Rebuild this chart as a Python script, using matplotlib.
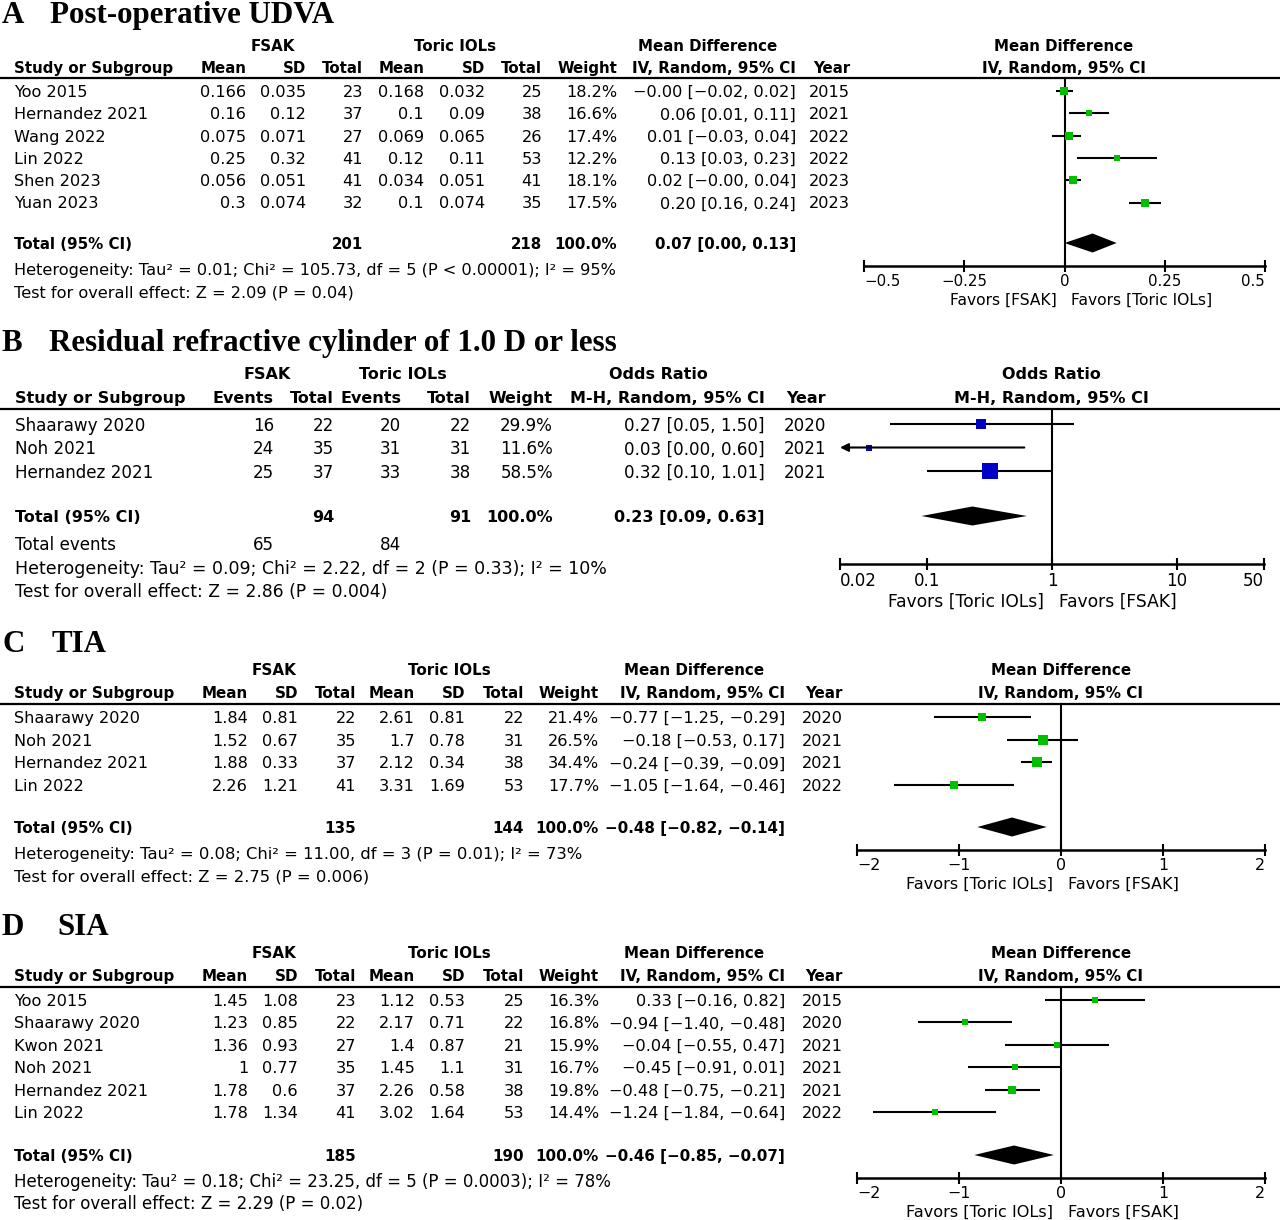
"""
Forest plots (FSAK vs Toric IOLs): UDVA, residual cylinder, TIA, SIA.
Guarda la figura en out.png
"""
import matplotlib.pyplot as plt

W, H = 1280, 1220
GREEN = "#00c000"
BLUE = "#0000c8"
MINUS = "\u2212"

# ---------------- A: Post-operative UDVA ----------------
a_study = ["Yoo 2015", "Hernandez 2021", "Wang 2022", "Lin 2022", "Shen 2023", "Yuan 2023"]
a_fsak_mean = [0.166, 0.16, 0.075, 0.25, 0.056, 0.3]
a_fsak_sd = [0.035, 0.12, 0.071, 0.32, 0.051, 0.074]
a_fsak_n = [23, 37, 27, 41, 41, 32]
a_toric_mean = [0.168, 0.1, 0.069, 0.12, 0.034, 0.1]
a_toric_sd = [0.032, 0.09, 0.065, 0.11, 0.051, 0.074]
a_toric_n = [25, 38, 26, 53, 41, 35]
a_weight = [18.2, 16.6, 17.4, 12.2, 18.1, 17.5]
a_md = [-0.002, 0.06, 0.01, 0.13, 0.02, 0.20]
a_lo = [-0.02, 0.01, -0.03, 0.03, -0.001, 0.16]
a_hi = [0.02, 0.11, 0.04, 0.23, 0.04, 0.24]
a_year = [2015, 2021, 2022, 2022, 2023, 2023]
a_total_n = [201, 218]
a_total_md = [0.07, 0.00, 0.13]
a_het = "Heterogeneity: Tau² = 0.01; Chi² = 105.73, df = 5 (P < 0.00001); I² = 95%"
a_test = "Test for overall effect: Z = 2.09 (P = 0.04)"

# ---------------- B: Residual cylinder <= 1.0 D ----------------
b_study = ["Shaarawy 2020", "Noh 2021", "Hernandez 2021"]
b_fsak_ev = [16, 24, 25]
b_fsak_n = [22, 35, 37]
b_toric_ev = [20, 31, 33]
b_toric_n = [22, 31, 38]
b_weight = [29.9, 11.6, 58.5]
b_or = [0.27, 0.034, 0.32]
b_lo = [0.05, 0.002, 0.10]
b_hi = [1.50, 0.60, 1.01]
b_year = [2020, 2021, 2021]
b_total_n = [94, 91]
b_total_ev = [65, 84]
b_total_or = [0.23, 0.09, 0.63]
b_het = "Heterogeneity: Tau² = 0.09; Chi² = 2.22, df = 2 (P = 0.33); I² = 10%"
b_test = "Test for overall effect: Z = 2.86 (P = 0.004)"

# ---------------- C: TIA ----------------
c_study = ["Shaarawy 2020", "Noh 2021", "Hernandez 2021", "Lin 2022"]
c_fsak_mean = [1.84, 1.52, 1.88, 2.26]
c_fsak_sd = [0.81, 0.67, 0.33, 1.21]
c_fsak_n = [22, 35, 37, 41]
c_toric_mean = [2.61, 1.7, 2.12, 3.31]
c_toric_sd = [0.81, 0.78, 0.34, 1.69]
c_toric_n = [22, 31, 38, 53]
c_weight = [21.4, 26.5, 34.4, 17.7]
c_md = [-0.77, -0.18, -0.24, -1.05]
c_lo = [-1.25, -0.53, -0.39, -1.64]
c_hi = [-0.29, 0.17, -0.09, -0.46]
c_year = [2020, 2021, 2021, 2022]
c_total_n = [135, 144]
c_total_md = [-0.48, -0.82, -0.14]
c_het = "Heterogeneity: Tau² = 0.08; Chi² = 11.00, df = 3 (P = 0.01); I² = 73%"
c_test = "Test for overall effect: Z = 2.75 (P = 0.006)"

# ---------------- D: SIA ----------------
d_study = ["Yoo 2015", "Shaarawy 2020", "Kwon 2021", "Noh 2021", "Hernandez 2021", "Lin 2022"]
d_fsak_mean = [1.45, 1.23, 1.36, 1, 1.78, 1.78]
d_fsak_sd = [1.08, 0.85, 0.93, 0.77, 0.6, 1.34]
d_fsak_n = [23, 22, 27, 35, 37, 41]
d_toric_mean = [1.12, 2.17, 1.4, 1.45, 2.26, 3.02]
d_toric_sd = [0.53, 0.71, 0.87, 1.1, 0.58, 1.64]
d_toric_n = [25, 22, 21, 31, 38, 53]
d_weight = [16.3, 16.8, 15.9, 16.7, 19.8, 14.4]
d_md = [0.33, -0.94, -0.04, -0.45, -0.48, -1.24]
d_lo = [-0.16, -1.40, -0.55, -0.91, -0.75, -1.84]
d_hi = [0.82, -0.48, 0.47, 0.01, -0.21, -0.64]
d_year = [2015, 2020, 2021, 2021, 2021, 2022]
d_total_n = [185, 190]
d_total_md = [-0.46, -0.85, -0.07]
d_het = "Heterogeneity: Tau² = 0.18; Chi² = 23.25, df = 5 (P = 0.0003); I² = 78%"
d_test = "Test for overall effect: Z = 2.29 (P = 0.02)"

md_ticks = {"A": [-0.5, -0.25, 0, 0.25, 0.5], "C": [-2, -1, 0, 1, 2], "D": [-2, -1, 0, 1, 2]}
md_ticklabels = {"A": ["−0.5", "−0.25", "0", "0.25", "0.5"],
                 "C": ["−2", "−1", "0", "1", "2"], "D": ["−2", "−1", "0", "1", "2"]}
or_ticks = [0.02, 0.1, 1, 10, 50]
or_ticklabels = ["0.02", "0.1", "1", "10", "50"]

FONT = ["DejaVu Sans"]
SERIF = ["Liberation Serif", "DejaVu Serif"]

fig = plt.figure(figsize=(W / 100, H / 100), dpi=100)
base = fig.add_axes([0, 0, 1, 1])
base.set_xlim(0, W)
base.set_ylim(H, 0)
base.axis("off")


def txt(x, y, s, ha="left", bold=False, size=11.0):
    base.text(x, y, s, ha=ha, va="center_baseline", fontsize=size,
              fontweight="bold" if bold else "normal", family=FONT)


def fmt(v):
    return f"{v:.2f}".replace("-", MINUS)


def ci_text(est, lo, hi):
    return f"{fmt(est)} [{fmt(lo)}, {fmt(hi)}]"


def title(y, letter, name, xname):
    for x, s in [(2, letter), (xname, name)]:
        base.text(x, y, s, ha="left", va="center_baseline", fontsize=22.3,
                  fontweight="bold", family=SERIF)


def forest_axes(x0, x1, ytop, ybot, xlim, ticks, labels, tsize, log=False):
    ax = fig.add_axes([x0 / W, 1 - ybot / H, (x1 - x0) / W, (ybot - ytop) / H])
    if log:
        ax.set_xscale("log")
    ax.set_xlim(*xlim)
    ax.set_ylim(ybot, ytop)
    for s in ["top", "left", "right"]:
        ax.spines[s].set_visible(False)
    ax.spines["bottom"].set_linewidth(1.8)
    ax.patch.set_alpha(0)
    ax.set_yticks([])
    ax.set_xticks(ticks)
    ax.minorticks_off()
    ax.set_xticklabels(labels, family=FONT, fontsize=tsize)
    ax.tick_params(axis="x", direction="inout", length=9, width=1.5, pad=1.5)
    tl = ax.get_xticklabels()
    tl[0].set_ha("left")
    tl[-1].set_ha("right")
    return ax


def favors(ax, null, y, left, right, size):
    ax.annotate(left, (null, y), xytext=(-5.5, 0), textcoords="offset points",
                ha="right", va="center_baseline", fontsize=size, family=FONT,
                annotation_clip=False)
    ax.annotate(right, (null, y), xytext=(5, 0), textcoords="offset points",
                ha="left", va="center_baseline", fontsize=size, family=FONT,
                annotation_clip=False)


def draw_studies(ax, ys, est, lo, hi, weight, color, xmin):
    for y, e, l, h, w in zip(ys, est, lo, hi, weight):
        if l < xmin:
            ax.annotate("", xy=(xmin, y), xytext=(h, y),
                        arrowprops=dict(arrowstyle="-|>", color="black", lw=1.5,
                                        mutation_scale=12, shrinkA=0, shrinkB=0))
        else:
            ax.plot([l, h], [y, y], color="black", lw=1.5, solid_capstyle="butt")
        side = 3 + 0.23 * w
        ax.plot(e, y, marker="s", ms=side * 0.72, color=color, mec=color, mew=0)


def diamond(ax, y, est, lo, hi, half=9.5):
    ax.fill([lo, est, hi, est], [y, y - half, y, y + half], color="black", lw=0)


def md_panel(key, lay, study, fm, fs, fn, tm, ts, tn, weight, md, lo, hi, year,
             total_n, total_md, het, test):
    c = lay["cols"]
    reg, bold = lay["size"], lay["bsize"]
    title(lay["title_y"], key, lay["name"], lay["name_x"])
    for label, x in zip(["FSAK", "Toric IOLs", "Mean Difference"], lay["h1x"]):
        txt(x, lay["h1"], label, ha="center", bold=True, size=bold)
    txt(14, lay["h2"], "Study or Subgroup", bold=True, size=bold)
    for label, x in zip(["Mean", "SD", "Total", "Mean", "SD", "Total", "Weight",
                         "IV, Random, 95% CI", "Year"], c):
        txt(x, lay["h2"], label, ha="right", bold=True, size=bold)
    txt(lay["plot_c"], lay["h1"], "Mean Difference", ha="center", bold=True, size=bold)
    txt(lay["plot_c"], lay["h2"], "IV, Random, 95% CI", ha="center", bold=True, size=bold)
    base.plot([0, W], [lay["line"], lay["line"]], color="black", lw=1.6)

    ys = [lay["y0"] + i * lay["dy"] for i in range(len(study))]
    for i, y in enumerate(ys):
        txt(14, y, study[i], size=reg)
        cells = [f"{fm[i]:g}", f"{fs[i]:g}", str(fn[i]), f"{tm[i]:g}", f"{ts[i]:g}",
                 str(tn[i]), f"{weight[i]:.1f}%", ci_text(md[i], lo[i], hi[i]), str(year[i])]
        for x, s in zip(c, cells):
            txt(x, y, s, ha="right", size=reg)
    yt = lay["total"]
    txt(14, yt, "Total (95% CI)", bold=True, size=bold)
    for x, s in zip([c[2], c[5], c[6], c[7]],
                    [str(total_n[0]), str(total_n[1]), "100.0%", ci_text(*total_md)]):
        txt(x, yt, s, ha="right", bold=True, size=bold)
    txt(14, lay["het"], het, size=lay["nsize"])
    txt(14, lay["test"], test, size=lay["nsize"])

    ax = forest_axes(lay["px0"], lay["px1"], lay["line"], lay["axis"],
                     (md_ticks[key][0], md_ticks[key][-1]), md_ticks[key],
                     md_ticklabels[key], lay["tsize"])
    ax.axvline(0, color="black", lw=1.5)
    draw_studies(ax, ys, md, lo, hi, weight, GREEN, md_ticks[key][0])
    diamond(ax, yt, total_md[0], total_md[1], total_md[2])
    favors(ax, 0, lay["fav"], *lay["fav_text"], lay["fsize"])


lay_a = dict(title_y=12, name="Post-operative UDVA", name_x=50,
             cols=[246, 306, 363, 424, 485, 542, 617, 796, 850], h1x=[273, 455, 708],
             h1=45, h2=67, line=78, y0=91, dy=22.3, total=243, het=269, test=291,
             px0=864, px1=1265, axis=266, fav=299, plot_c=1064,
             size=11.6, bsize=10.8, nsize=11.6, tsize=10.8, fsize=11.2,
             fav_text=("Favors [FSAK]", "Favors [Toric IOLs]"))
lay_c = dict(title_y=641, name="TIA", name_x=52,
             cols=[248, 298, 356, 415, 465, 524, 599, 785, 843], h1x=[274, 449, 694],
             h1=669, h2=692, line=704, y0=717, dy=22.7, total=827, het=853, test=875,
             px0=857, px1=1265, axis=850, fav=883, plot_c=1061,
             size=11.6, bsize=10.9, nsize=11.8, tsize=11.4, fsize=11.6,
             fav_text=("Favors [Toric IOLs]", "Favors [FSAK]"))
lay_d = dict(title_y=924, name="SIA", name_x=57,
             cols=[248, 298, 356, 415, 465, 524, 599, 785, 843], h1x=[274, 449, 694],
             h1=952, h2=975, line=987, y0=1000, dy=22.4, total=1155, het=1180, test=1202,
             px0=857, px1=1265, axis=1178, fav=1211, plot_c=1061,
             size=11.6, bsize=10.9, nsize=12.0, tsize=11.4, fsize=11.6,
             fav_text=("Favors [Toric IOLs]", "Favors [FSAK]"))

md_panel("A", lay_a, a_study, a_fsak_mean, a_fsak_sd, a_fsak_n, a_toric_mean, a_toric_sd,
         a_toric_n, a_weight, a_md, a_lo, a_hi, a_year, a_total_n, a_total_md,
         a_het, a_test)
md_panel("C", lay_c, c_study, c_fsak_mean, c_fsak_sd, c_fsak_n, c_toric_mean, c_toric_sd,
         c_toric_n, c_weight, c_md, c_lo, c_hi, c_year, c_total_n, c_total_md,
         c_het, c_test)
md_panel("D", lay_d, d_study, d_fsak_mean, d_fsak_sd, d_fsak_n, d_toric_mean, d_toric_sd,
         d_toric_n, d_weight, d_md, d_lo, d_hi, d_year, d_total_n, d_total_md,
         d_het, d_test)

# ---------------- panel B (odds ratio) ----------------
reg_b, bold_b = 12.1, 11.5
title(340, "B", "Residual refractive cylinder of 1.0 D or less", 49)
cols_b = [274, 334, 401, 471, 553, 765, 826]
for label, x in zip(["FSAK", "Toric IOLs", "Odds Ratio"], [267, 403, 658]):
    txt(x, 373, label, ha="center", bold=True, size=bold_b)
txt(15, 397, "Study or Subgroup", bold=True, size=bold_b)
for label, x in zip(["Events", "Total", "Events", "Total", "Weight",
                     "M-H, Random, 95% CI", "Year"], cols_b):
    txt(x, 397, label, ha="right", bold=True, size=bold_b)
txt(1051, 373, "Odds Ratio", ha="center", bold=True, size=bold_b)
txt(1051, 397, "M-H, Random, 95% CI", ha="center", bold=True, size=bold_b)
base.plot([0, W], [409, 409], color="black", lw=1.6)

ys_b = [424 + i * 23.5 for i in range(len(b_study))]
for i, y in enumerate(ys_b):
    txt(15, y, b_study[i], size=reg_b)
    cells = [str(b_fsak_ev[i]), str(b_fsak_n[i]), str(b_toric_ev[i]), str(b_toric_n[i]),
             f"{b_weight[i]:.1f}%", ci_text(b_or[i], b_lo[i], b_hi[i]), str(b_year[i])]
    for x, s in zip(cols_b, cells):
        txt(x, y, s, ha="right", size=reg_b)
txt(15, 516, "Total (95% CI)", bold=True, size=bold_b)
for x, s in zip([cols_b[1], cols_b[3], cols_b[4], cols_b[5]],
                [str(b_total_n[0]), str(b_total_n[1]), "100.0%", ci_text(*b_total_or)]):
    txt(x, 516, s, ha="right", bold=True, size=bold_b)
txt(15, 543, "Total events", size=reg_b)
txt(cols_b[0], 543, str(b_total_ev[0]), ha="right", size=reg_b)
txt(cols_b[2], 543, str(b_total_ev[1]), ha="right", size=reg_b)
txt(15, 567, b_het, size=12.5)
txt(15, 590, b_test, size=12.3)

ax_b = forest_axes(840, 1264, 409, 564, (or_ticks[0], or_ticks[-1]), or_ticks,
                   or_ticklabels, 12.0, log=True)
ax_b.axvline(1, color="black", lw=1.5)
draw_studies(ax_b, ys_b, b_or, b_lo, b_hi, b_weight, BLUE, or_ticks[0])
diamond(ax_b, 516, *b_total_or)
favors(ax_b, 1, 600, "Favors [Toric IOLs]", "Favors [FSAK]", 12.3)

fig.savefig("out.png", dpi=100)
